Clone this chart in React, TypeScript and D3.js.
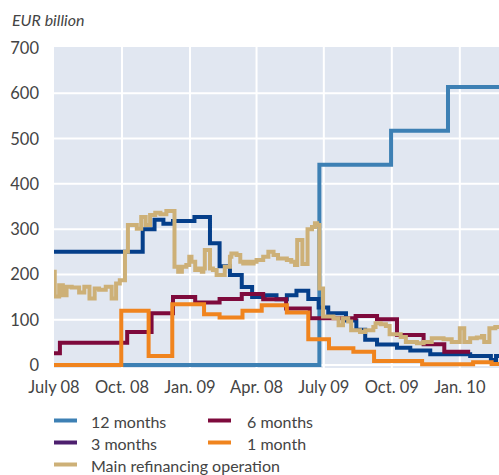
import React from 'react';
import * as d3 from 'd3';

// chart box
const width = 499;
const height = 475;
const plot = { left: 54, right: 499, top: 47, bottom: 368 };

const yTicks = [0, 100, 200, 300, 400, 500, 600, 700];
const xTickDates = ['2008-07-01', '2008-10-01', '2009-01-01', '2009-04-01', '2009-07-01', '2009-10-01', '2010-01-01'];
// note: the source says "Apr. 08" here, kept as printed
const xTickLabels = ['July 08', 'Oct. 08', 'Jan. 09', 'Apr. 08', 'July 09', 'Oct. 09', 'Jan. 10'];
const xStart = '2008-07-01';
const xEnd = '2010-02-23';

type Pt = [string, number];

// outstanding amounts, EUR billion (step series, value holds until next date)
const twelveMonths: Pt[] = [
  ['2008-07-01', 0], ['2009-06-25', 442], ['2009-09-30', 517], ['2009-12-16', 614], ['2010-03-01', 614],
];

const threeMonths: Pt[] = [
  ['2008-07-01', 250], ['2008-10-29', 300], ['2008-11-14', 321], ['2008-11-26', 312], ['2008-12-09', 318],
  ['2009-01-07', 327], ['2009-01-28', 269], ['2009-02-10', 218], ['2009-02-24', 199], ['2009-03-12', 172],
  ['2009-03-26', 150], ['2009-04-12', 154], ['2009-04-28', 145], ['2009-05-12', 154], ['2009-05-25', 164],
  ['2009-06-10', 146], ['2009-06-24', 127], ['2009-07-07', 114], ['2009-07-31', 98], ['2009-08-14', 78],
  ['2009-08-26', 56], ['2009-09-11', 45], ['2009-10-08', 38], ['2009-10-26', 32], ['2009-11-22', 24],
  ['2010-01-15', 20], ['2010-02-12', 11], ['2010-02-19', 20], ['2010-03-01', 20],
];

const sixMonths: Pt[] = [
  ['2008-07-01', 26], ['2008-07-09', 49], ['2008-10-08', 73], ['2008-11-10', 114], ['2008-12-09', 150],
  ['2009-01-08', 138], ['2009-02-10', 146], ['2009-03-12', 157], ['2009-04-10', 145], ['2009-05-11', 125],
  ['2009-06-12', 103], ['2009-08-13', 108], ['2009-09-11', 101], ['2009-10-08', 66], ['2009-11-13', 46],
  ['2009-12-11', 29], ['2010-01-15', 29],
];

const oneMonth: Pt[] = [
  ['2008-07-01', 0], ['2008-09-30', 120], ['2008-11-06', 20], ['2008-12-08', 134], ['2009-01-20', 112],
  ['2009-02-10', 105], ['2009-03-13', 120], ['2009-04-08', 132], ['2009-05-12', 116], ['2009-06-10', 57],
  ['2009-07-08', 37], ['2009-08-10', 29], ['2009-09-07', 9], ['2009-11-11', 1.5], ['2010-01-19', 6],
  ['2010-02-13', 2], ['2010-03-01', 2],
];

const mainRefi: Pt[] = [
  ['2008-07-01', 206], ['2008-07-02', 151], ['2008-07-08', 176], ['2008-07-13', 154], ['2008-07-18', 173],
  ['2008-07-25', 171], ['2008-08-04', 160], ['2008-08-11', 173], ['2008-08-18', 147], ['2008-08-25', 169],
  ['2008-08-31', 166], ['2008-09-09', 173], ['2008-09-17', 147], ['2008-09-23', 180], ['2008-09-28', 187],
  ['2008-10-05', 250], ['2008-10-09', 309], ['2008-10-21', 301], ['2008-10-27', 327], ['2008-11-02', 309],
  ['2008-11-08', 331], ['2008-11-15', 336], ['2008-11-22', 333], ['2008-11-30', 340], ['2008-12-11', 217],
  ['2008-12-16', 206], ['2008-12-21', 217], ['2008-12-27', 221], ['2008-12-31', 239], ['2009-01-03', 228],
  ['2009-01-08', 210], ['2009-01-12', 213], ['2009-01-17', 206], ['2009-01-19', 213], ['2009-01-21', 254],
  ['2009-01-28', 213], ['2009-02-01', 210], ['2009-02-06', 199], ['2009-02-17', 217], ['2009-02-24', 239],
  ['2009-02-26', 246], ['2009-03-05', 243], ['2009-03-10', 228], ['2009-03-14', 224], ['2009-03-19', 228],
  ['2009-03-23', 224], ['2009-03-28', 228], ['2009-04-01', 232], ['2009-04-10', 239], ['2009-04-17', 250],
  ['2009-04-24', 243], ['2009-04-30', 235], ['2009-05-12', 232], ['2009-05-18', 228], ['2009-05-23', 221],
  ['2009-05-26', 276], ['2009-06-02', 223], ['2009-06-09', 300], ['2009-06-15', 305], ['2009-06-19', 313],
  ['2009-06-22', 309], ['2009-06-25', 169], ['2009-06-30', 107], ['2009-07-14', 103], ['2009-07-21', 88],
  ['2009-07-27', 103], ['2009-08-03', 96], ['2009-08-07', 77], ['2009-08-19', 73], ['2009-08-26', 77],
  ['2009-09-06', 84], ['2009-09-09', 92], ['2009-09-16', 90], ['2009-09-23', 86], ['2009-09-28', 68],
  ['2009-10-13', 62], ['2009-10-20', 51], ['2009-11-04', 48], ['2009-11-13', 51], ['2009-11-24', 59],
  ['2009-12-10', 57], ['2009-12-21', 51], ['2010-01-01', 81], ['2010-01-07', 51], ['2010-01-15', 59],
  ['2010-01-24', 61], ['2010-01-31', 64], ['2010-02-03', 51], ['2010-02-10', 81], ['2010-02-18', 84],
  ['2010-03-01', 84],
];

// drawing order: later ones sit on top
const series = [
  { key: '12m', data: twelveMonths, color: '#3d80b4' },
  { key: '3m', data: threeMonths, color: '#053f8a' },
  { key: '6m', data: sixMonths, color: '#7e0a3c' },
  { key: '1m', data: oneMonth, color: '#f0841e' },
  { key: 'mro', data: mainRefi, color: '#cdb077' },
];

const legendItems = [
  { label: '12 months', color: '#3d80b4' },
  { label: '3 months', color: '#4d1f6e' },
  { label: 'Main refinancing operation', color: '#cdb077' },
  { label: '6 months', color: '#7e0a3c' },
  { label: '1 month', color: '#f0841e' },
];

const parse = d3.timeParse('%Y-%m-%d');
const font = 'Lato, "Open Sans", sans-serif';
const textColor = '#444';

const App: React.FC = () => {
  const x = d3.scaleTime()
    .domain([parse(xStart)!, parse(xEnd)!])
    .range([plot.left, plot.right]);
  const y = d3.scaleLinear().domain([0, 700]).range([365, 48]);

  const line = d3.line<Pt>()
    .x(d => x(parse(d[0])!))
    .y(d => y(d[1]))
    .curve(d3.curveStepAfter);

  return (
    <svg width={width} height={height} style={{ position: 'absolute', left: 0, top: 0 }}>
      <defs>
        <clipPath id="plot-clip">
          <rect x={plot.left} y={0} width={plot.right - plot.left} height={plot.bottom} />
        </clipPath>
      </defs>

      <text x={12} y={26} fontFamily={font} fontStyle="italic" fontSize={16} fill={textColor}>
        EUR billion
      </text>

      {/* background + grid */}
      <rect x={plot.left} y={plot.top} width={plot.right - plot.left} height={plot.bottom - plot.top} fill="#e1e7f1" />
      {yTicks.filter(t => t < 700).map(t => (
        <line key={t} x1={plot.left} x2={plot.right} y1={y(t)} y2={y(t)} stroke="#fff" strokeWidth={2} />
      ))}
      {xTickDates.slice(1).map(d => (
        <line key={d} x1={x(parse(d)!)} x2={x(parse(d)!)} y1={plot.top} y2={plot.bottom} stroke="#fff" strokeWidth={2} />
      ))}

      {/* y labels */}
      {yTicks.map(t => (
        <text key={t} x={39} y={y(t)} textAnchor="end" dominantBaseline="central"
          fontFamily={font} fontSize={16.5} fill={textColor}>
          {t}
        </text>
      ))}

      {/* x labels */}
      {xTickDates.map((d, i) => (
        <text key={d} x={x(parse(d)!)} y={393} textAnchor="middle"
          fontFamily={font} fontSize={16.5} fill={textColor}>
          {xTickLabels[i]}
        </text>
      ))}

      <g clipPath="url(#plot-clip)">
        {series.map(s => (
          <path key={s.key} d={line(s.data) ?? ''} fill="none" stroke={s.color} strokeWidth={4} strokeLinejoin="miter" />
        ))}
      </g>

      {/* legend, two columns */}
      {legendItems.map((it, i) => {
        const col = i < 3 ? 0 : 1;
        const row = i < 3 ? i : i - 3;
        const lx = col === 0 ? 54 : 208;
        const ly = 420.5 + row * 22;
        return (
          <g key={it.label}>
            <line x1={lx} x2={lx + 23} y1={ly} y2={ly} stroke={it.color} strokeWidth={4} />
            <text x={lx + 37 + (col === 1 ? 2 : 0)} y={ly + 1} dominantBaseline="central"
              fontFamily={font} fontSize={16} fill={textColor}>
              {it.label}
            </text>
          </g>
        );
      })}
    </svg>
  );
};

export default App;
